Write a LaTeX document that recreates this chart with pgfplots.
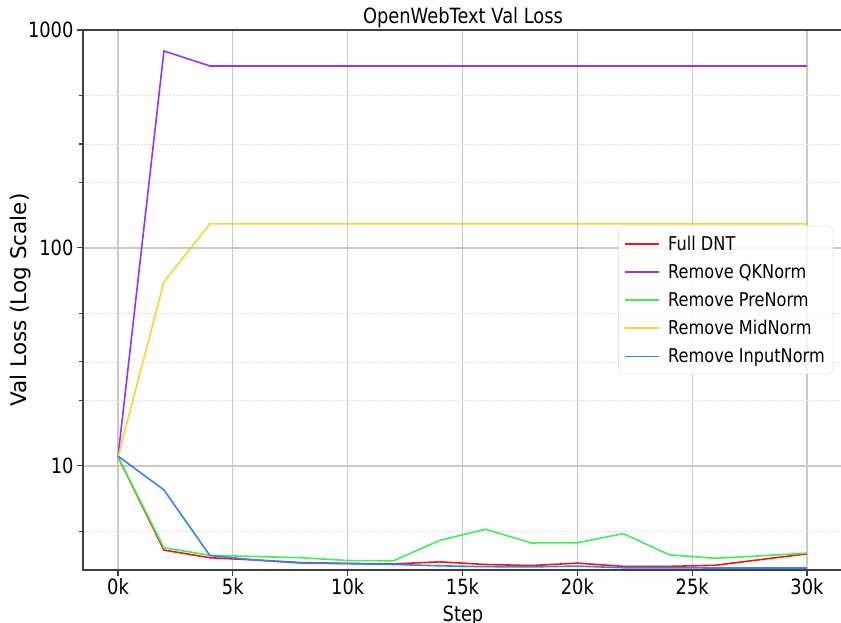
\documentclass[border=0pt]{standalone}
\usepackage{fontspec}
\setmainfont{DejaVu Sans}[FakeStretch=0.85]
\newfontfamily\ylabelfont{DejaVu Sans}
\usepackage{pgfplots}
\pgfplotsset{compat=1.18}

\definecolor{cRed}{HTML}{FF1010}
\definecolor{cPurple}{HTML}{9433FF}
\definecolor{cGreen}{HTML}{40F050}
\definecolor{cGold}{HTML}{FFD030}
\definecolor{cBlue}{HTML}{3383FF}

% validation loss every 2k steps (x in thousands of steps)
\pgfplotstableread{
step fulldnt noqk nopre nomid noinput
0   11.0  11.0  11.0  11.0  11.1
2   4.11  801   4.21  69.8  7.76
4   3.79  684   3.89  128.9 3.88
6   3.70  684   3.84  128.9 3.70
8   3.60  684   3.79  128.9 3.58
10  3.57  684   3.68  128.9 3.56
12  3.55  684   3.67  128.9 3.53
14  3.63  684   4.55  128.9 3.48
16  3.53  684   5.12  128.9 3.45
18  3.49  684   4.43  128.9 3.44
20  3.58  684   4.44  128.9 3.47
22  3.46  684   4.89  128.9 3.41
24  3.46  684   3.91  128.9 3.41
26  3.50  684   3.77  128.9 3.40
28  3.72  684   3.87  128.9 3.40
30  3.95  684   3.98  128.9 3.40
}\losstable

\begin{document}
\begin{tikzpicture}
\begin{axis}[
  scale only axis, width=760pt, height=540pt,
  xmin=-1.524, xmax=31.567,
  ymode=log, ymin=3.33, ymax=1000,
  xtick={0,5,10,15,20,25,30},
  xticklabels={0k,5k,10k,15k,20k,25k,30k},
  ytick={10,100,1000}, yticklabels={10,100,1000},
  minor ytick={5,20,30,50,200,300,500},
  grid=both,
  major grid style={draw=black!21, line width=1.3pt},
  minor grid style={draw=black!11, line width=0.8pt, dash pattern=on 2pt off 1.2pt},
  axis line style={draw=black!75, line width=1.3pt},
  tick style={draw=black!75, line width=1.1pt},
  tick align=outside, xtick pos=bottom, ytick pos=left,
  major tick length=6pt, minor tick length=3.5pt,
  /pgf/number format/assume math mode=true,
  ticklabel style={font=\fontsize{21}{24}\selectfont},
  xticklabel style={anchor=base, yshift=-18.5pt},
  title={OpenWebText Val Loss},
  title style={font=\fontsize{21}{24}\selectfont, at={(0.5,1.0111)}, anchor=base, yshift=-6pt},
  xlabel={Step},
  xlabel style={font=\fontsize{21}{24}\selectfont, at={(0.5,-0.0954)}, anchor=base},
  ylabel={Val Loss (Log Scale)},
  ylabel style={font=\ylabelfont\fontsize{21.5}{24}\selectfont, at={(-0.0741,0.5)}, anchor=base},
  legend cell align=left,
  legend image code/.code={\draw[#1, line width=1.6pt, draw opacity=1] (0pt,0pt) -- (34pt,0pt);},
  legend style={at={(0.9868,0.5)}, anchor=east, draw=black!15,
    rounded corners=4pt, fill=white, fill opacity=0.8, text opacity=1,
    font=\fontsize{19}{22}\selectfont, row sep=8.5pt, inner xsep=6pt, inner ysep=8pt,
    /tikz/every odd column/.append style={column sep=6pt}},
]
\addplot[cRed, line width=1.6pt]    table[x=step, y=fulldnt] {\losstable};
\addlegendentry{Full DNT}
\addplot[cPurple, line width=1.6pt] table[x=step, y=noqk]    {\losstable};
\addlegendentry{Remove QKNorm}
\addplot[cGreen, line width=1.6pt]  table[x=step, y=nopre]   {\losstable};
\addlegendentry{Remove PreNorm}
\addplot[cGold, line width=1.6pt]   table[x=step, y=nomid]   {\losstable};
\addlegendentry{Remove MidNorm}
\addplot[cBlue, line width=1.6pt]   table[x=step, y=noinput] {\losstable};
\addlegendentry{Remove InputNorm}
\end{axis}
\pgfresetboundingbox
\useasboundingbox (-83pt,-53pt) rectangle (758pt,570pt);
\end{tikzpicture}
\end{document}
